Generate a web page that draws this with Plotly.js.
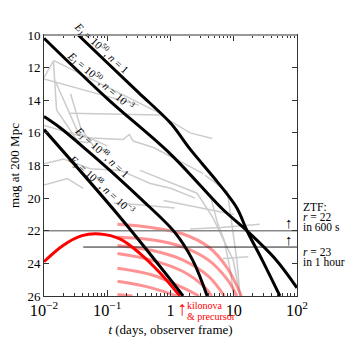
<!DOCTYPE html>
<html>
<head>
<meta charset="utf-8">
<script src="https://cdn.plot.ly/plotly-3.0.1.min.js"></script>
<style>
  html, body { margin: 0; padding: 0; background: #fff; }
  #chart { width: 350px; height: 350px; }
</style>
</head>
<body>
<div id="chart"></div>
<script>
// afterglow models (t in days, r mag at 200 Mpc)
var tA = [0.0347, 0.1, 0.316, 1, 2.04, 5.5, 11.2, 16.2, 28.2, 53.7];
var mA = [10, 11.7, 13.55, 15.4, 17.0, 19.0, 20.6, 22.0, 23.8, 26];
var tB = [0.01, 0.1, 1, 6.76, 16.2, 44.7, 100];
var mB = [10.2, 13.9, 17.3, 20.7, 22.0, 23.7, 25.5];
var tC = [0.01, 0.0182, 0.049, 0.135, 0.33, 1.17, 2.24, 3.8];
var mC = [15.0, 15.7, 17.1, 18.6, 20.0, 22.1, 23.8, 26];
var tD = [0.01, 0.162, 1, 1.58];
var mD = [15.8, 21.2, 25.0, 26];

// kilonova & precursor
var tKN = [0.01, 0.02, 0.04, 0.076, 0.158, 0.33, 0.69, 1.41];
var mKN = [23.9, 22.9, 22.3, 22.2, 22.5, 23.4, 24.6, 26];

// kilonova model grid (pink)
var pinkT = [
  [0.145, 0.5, 1.58, 4, 7.94, 13.2],
  [0.145, 0.5, 1.58, 4, 7.94, 11.2],
  [0.145, 0.5, 1.58, 4, 7.08],
  [0.145, 0.5, 1.58, 3.55, 4.47],
  [0.145, 0.5, 1.58, 2.82],
  [0.145, 0.5, 1.26],
  [0.145, 0.25]
];
var pinkM = [
  [21.6, 21.8, 22.2, 23.0, 24.3, 26],
  [22.4, 22.55, 23.0, 23.8, 25.0, 26],
  [22.9, 23.2, 23.8, 24.8, 26],
  [23.4, 23.8, 24.5, 25.5, 26],
  [24.3, 24.7, 25.5, 26],
  [25.1, 25.5, 26],
  [25.9, 26]
];

// observed GRB afterglows (gray)
var grayT = [
  [0.025, 0.69, 2.04, 4.57],
  [0.0141, 0.1, 0.69],
  [0.01, 0.0141, 0.0158, 0.0339, 0.05],
  [0.0263, 0.038, 0.063],
  [0.01, 0.112, 0.316],
  [0.01, 0.047, 0.178, 0.224, 0.257, 0.54, 3.3],
  [0.01, 0.0204, 0.0537, 0.162, 0.479, 1, 2.45],
  [0.33, 2.63, 4.68, 9.8, 12.6],
  [3.55, 7.94, 9.8, 11.2, 12.6],
  [2.04, 6.3, 25.7],
  [6.76, 17],
  [0.126, 0.316, 1.17],
  [0.776, 6.03, 10],
  [3.16, 4.27, 5.5, 7.08, 8.9, 10],
  [0.01, 0.0234, 0.0417],
  [0.015, 0.0347, 0.1]
];
var grayM = [
  [14.8, 14.9, 16.0, 16.35],
  [11.56, 13.2, 14.8],
  [12.6, 11.6, 14.6, 16.5, 16.6],
  [13.6, 15.7, 16.9],
  [12.7, 13.8, 14.3],
  [15.55, 16.3, 16.4, 16.1, 16.5, 16.9, 18.5],
  [17.9, 17.6, 18.2, 18.3, 19.1, 19.4, 20.0],
  [18.3, 19.7, 21.2, 23.8, 26],
  [18.6, 19.6, 22.2, 23.8, 26],
  [21.9, 21.8, 21.6],
  [23.7, 23.6],
  [20.3, 20.4, 20.6],
  [20.15, 20.8, 21.0],
  [19.3, 19.85, 21.5, 22.6, 24.5, 26],
  [19.2, 18.8, 19.4],
  [12.8, 16.0, 16.8]
];

// ZTF limits
var limT22 = [0.01, 100], limM22 = [22, 22];
var limT23 = [0.0417, 100], limM23 = [23, 23];

var traces = [];
for (var i = 0; i < grayT.length; i++) {
  traces.push({x: grayT[i], y: grayM[i], mode: 'lines', hoverinfo: 'skip',
    line: {color: '#cccccc', width: 1.5}});
}
for (var j = 0; j < pinkT.length; j++) {
  traces.push({x: pinkT[j], y: pinkM[j], mode: 'lines', hoverinfo: 'skip',
    line: {color: 'rgba(255,40,40,0.5)', width: 3, shape: 'spline'}});
}
traces.push({x: limT22, y: limM22, mode: 'lines', line: {color: '#888', width: 1.3}});
traces.push({x: limT23, y: limM23, mode: 'lines', line: {color: '#222', width: 1}});
traces.push({x: tKN, y: mKN, mode: 'lines', line: {color: '#ff0000', width: 3, shape: 'spline'}});
[[tA, mA], [tB, mB], [tC, mC], [tD, mD]].forEach(function (c) {
  traces.push({x: c[0], y: c[1], mode: 'lines', line: {color: '#000', width: 3, shape: 'spline'}});
});

var serif = 'Liberation Serif, Times New Roman, serif';
var L = 43.5, R = 53, T = 34.5, B = 54;
var PW = 350 - L - R, PH = 350 - T - B;

function lab(x, y, txt, ang) {
  return {x: Math.log10(x), y: y, xref: 'x', yref: 'y', text: txt, showarrow: false,
    textangle: ang, font: {family: serif, size: 11, color: '#000'}};
}
// place a text by its left edge / vertical centre in page pixels
function side(px, py, txt, col, size) {
  return {x: (px - L) / PW, y: 1 - (py - T) / PH, xref: 'paper', yref: 'paper', text: txt,
    showarrow: false, xanchor: 'left', yanchor: 'middle',
    font: {family: serif, size: size || 11.5, color: col || '#000'}};
}

var annotations = [
  lab(0.081, 10.77, '<i>E</i><sub>J</sub> = 10<sup>50</sup>, <i>n</i> = 1', 43),
  lab(0.078, 12.8, '<i>E</i><sub>J</sub> = 10<sup>50</sup>, <i>n</i> = 10<sup>−3</sup>', 41),
  lab(0.081, 17.2, '<i>E</i><sub>J</sub> = 10<sup>48</sup>, <i>n</i> = 1', 43),
  lab(0.081, 19.17, '<i>E</i><sub>J</sub> = 10<sup>48</sup>, <i>n</i> = 10<sup>−3</sup>', 42),
  side(301, 207, 'ZTF:'),
  side(301, 217, '<i>r</i> = 22'),
  side(301, 227, 'in 600 s'),
  side(301, 252, '<i>r</i> = 23'),
  side(301, 262, 'in 1 hour'),
  side(283, 223, '↑', '#000', 15),
  side(283, 240, '↑', '#000', 15),
  side(175, 308, '↑', '#ff0000', 20),
  side(185, 306, 'kilonova', '#ff0000', 10),
  side(185, 317, '&amp; precursor', '#ff0000', 10)
];

var layout = {
  width: 350, height: 350,
  margin: {l: L, r: R, t: T, b: B},
  paper_bgcolor: '#fff', plot_bgcolor: '#fff',
  showlegend: false,
  font: {family: serif, size: 12, color: '#000'},
  xaxis: {
    type: 'log', range: [-2, 2], dtick: 1, exponentformat: 'power',
    showgrid: false, zeroline: false,
    ticks: 'inside', ticklen: 6, tickcolor: '#333',
    showline: true, linecolor: '#333', linewidth: 1, mirror: 'allticks',
    minor: {ticks: 'inside', ticklen: 3, tickcolor: '#333', showgrid: false},
    tickfont: {family: serif, size: 13},
    title: {text: '<i>t</i> (days, observer frame)', font: {family: serif, size: 13}, standoff: 6}
  },
  yaxis: {
    range: [26, 10], dtick: 2,
    showgrid: false, zeroline: false,
    ticks: 'inside', ticklen: 5, tickcolor: '#333',
    showline: true, linecolor: '#333', linewidth: 1, mirror: 'allticks',
    tickfont: {family: serif, size: 13},
    title: {text: 'mag at 200 Mpc', font: {family: serif, size: 13}, standoff: 4}
  },
  annotations: annotations,
  shapes: [{type: 'line', xref: 'paper', yref: 'paper', x0: 0, x1: 1, y0: 1, y1: 1,
    line: {color: '#999', width: 2}}]
};

Plotly.newPlot('chart', traces, layout, {staticPlot: true, displayModeBar: false});
</script>
</body>
</html>
